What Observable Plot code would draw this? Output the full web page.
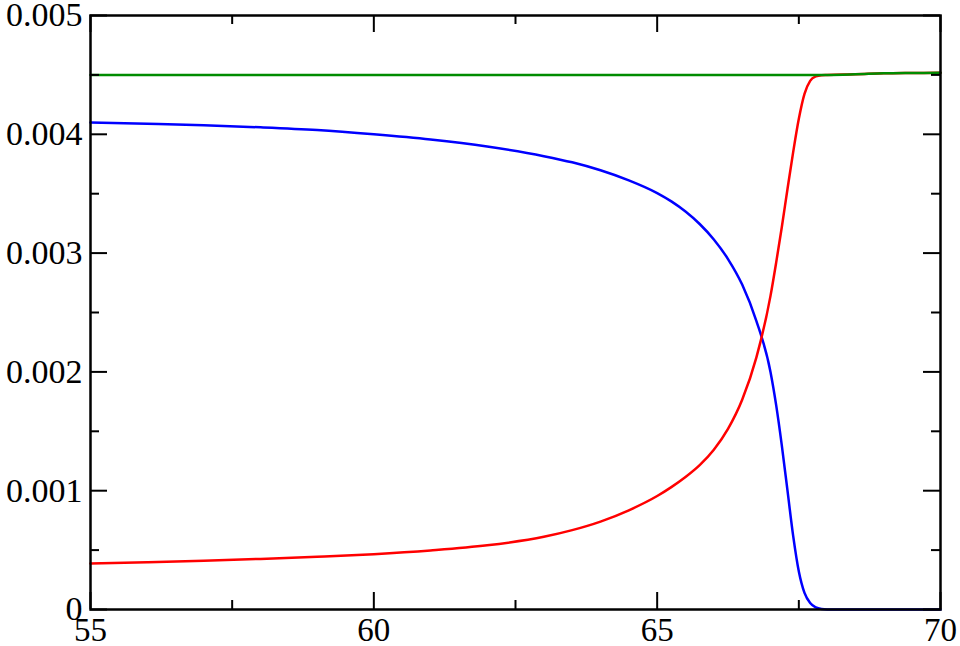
<!DOCTYPE html>
<html>
<head>
<meta charset="utf-8">
<script src="https://cdn.jsdelivr.net/npm/d3@7"></script>
<script src="https://cdn.jsdelivr.net/npm/@observablehq/plot@0.6"></script>
<style>
  html, body { margin: 0; padding: 0; background: #fff; }
</style>
</head>
<body>
<div id="chart"></div>
<script>
const xs = [55,56,57,58,59,60,61,62,63,63.5,64,64.5,65,65.25,65.5,65.75,66,66.25,66.5,66.75,67,67.1,67.2,67.3,67.4,67.5,67.6,67.7,67.8,67.9,68,68.5,69,69.5,70];
const blueVals = [4.100,4.089,4.076,4.059,4.036,4.000,3.956,3.897,3.816,3.764,3.697,3.612,3.505,3.435,3.350,3.245,3.115,2.950,2.735,2.430,2.000,1.720,1.380,1.000,0.620,0.320,0.140,0.055,0.018,0.004,0.0,0.0,0.0,0.0,0.0];
const redVals = [0.387,0.398,0.411,0.426,0.444,0.466,0.497,0.540,0.612,0.668,0.740,0.835,0.955,1.030,1.115,1.215,1.345,1.520,1.765,2.120,2.640,2.920,3.220,3.540,3.850,4.130,4.340,4.450,4.487,4.498,4.500,4.505,4.513,4.516,4.518];
const greenVals = [4.500,4.500,4.500,4.500,4.500,4.500,4.500,4.500,4.500,4.500,4.500,4.500,4.500,4.500,4.500,4.500,4.500,4.500,4.500,4.500,4.500,4.500,4.500,4.500,4.500,4.500,4.500,4.500,4.500,4.500,4.500,4.505,4.513,4.516,4.518];

const xMajor = [55,60,65,70];
const xLabels = ["55","60","65","70"];
const xMinor = [57.5,62.5,67.5];
const yMajor = [0,0.001,0.002,0.003,0.004,0.005];
const yLabels = ["0","0.001","0.002","0.003","0.004","0.005"];
const yMinor = [0.0005,0.0015,0.0025,0.0035,0.0045];

const mk = vals => xs.map((x, i) => ({x, y: vals[i] / 1000}));
const blue = mk(blueVals), red = mk(redVals), green = mk(greenVals);

const W = 960, H = 646, mL = 90, mR = 20, mT = 15, mB = 37;
const pw = W - mL - mR, ph = H - mT - mB;
const majorLen = 17, minorLen = 9;

const chart = Plot.plot({
  width: W, height: H,
  marginLeft: mL, marginRight: mR, marginTop: mT, marginBottom: mB,
  x: {domain: [55, 70]},
  y: {domain: [0, 0.005]},
  style: {fontFamily: "'Liberation Serif', 'Times New Roman', serif", fontSize: "34px", color: "black", background: "white", overflow: "visible"},
  marks: [
    Plot.line(blue, {x: "x", y: "y", stroke: "#0000ff", strokeWidth: 2.5, curve: "monotone-x"}),
    Plot.line(red, {x: "x", y: "y", stroke: "#ff0000", strokeWidth: 2.5, curve: "monotone-x"}),
    Plot.line(green, {x: "x", y: "y", stroke: "#008c00", strokeWidth: 2.5, curve: "monotone-x"}),
    Plot.tickX(xMajor, {x: d => d, insetTop: ph - majorLen, stroke: "black", strokeWidth: 2}),
    Plot.tickX(xMinor, {x: d => d, insetTop: ph - minorLen, stroke: "black", strokeWidth: 2}),
    Plot.tickX(xMajor, {x: d => d, insetBottom: ph - majorLen, stroke: "black", strokeWidth: 2}),
    Plot.tickX(xMinor, {x: d => d, insetBottom: ph - minorLen, stroke: "black", strokeWidth: 2}),
    Plot.tickY(yMajor, {y: d => d, insetRight: pw - majorLen, stroke: "black", strokeWidth: 2}),
    Plot.tickY(yMinor, {y: d => d, insetRight: pw - minorLen, stroke: "black", strokeWidth: 2}),
    Plot.tickY(yMajor, {y: d => d, insetLeft: pw - majorLen, stroke: "black", strokeWidth: 2}),
    Plot.tickY(yMinor, {y: d => d, insetLeft: pw - minorLen, stroke: "black", strokeWidth: 2}),
    Plot.frame({stroke: "black", strokeWidth: 2.5}),
    Plot.axisX(xMajor, {tickSize: 0, tickPadding: 8, label: null, fontSize: 33,
      tickFormat: d => xLabels[xMajor.indexOf(d)]}),
    Plot.axisY(yMajor, {tickSize: 0, tickPadding: 8, label: null, fontSize: 34,
      tickFormat: d => yLabels[yMajor.indexOf(d)]})
  ]
});
document.getElementById("chart").appendChild(chart);
</script>
</body>
</html>
